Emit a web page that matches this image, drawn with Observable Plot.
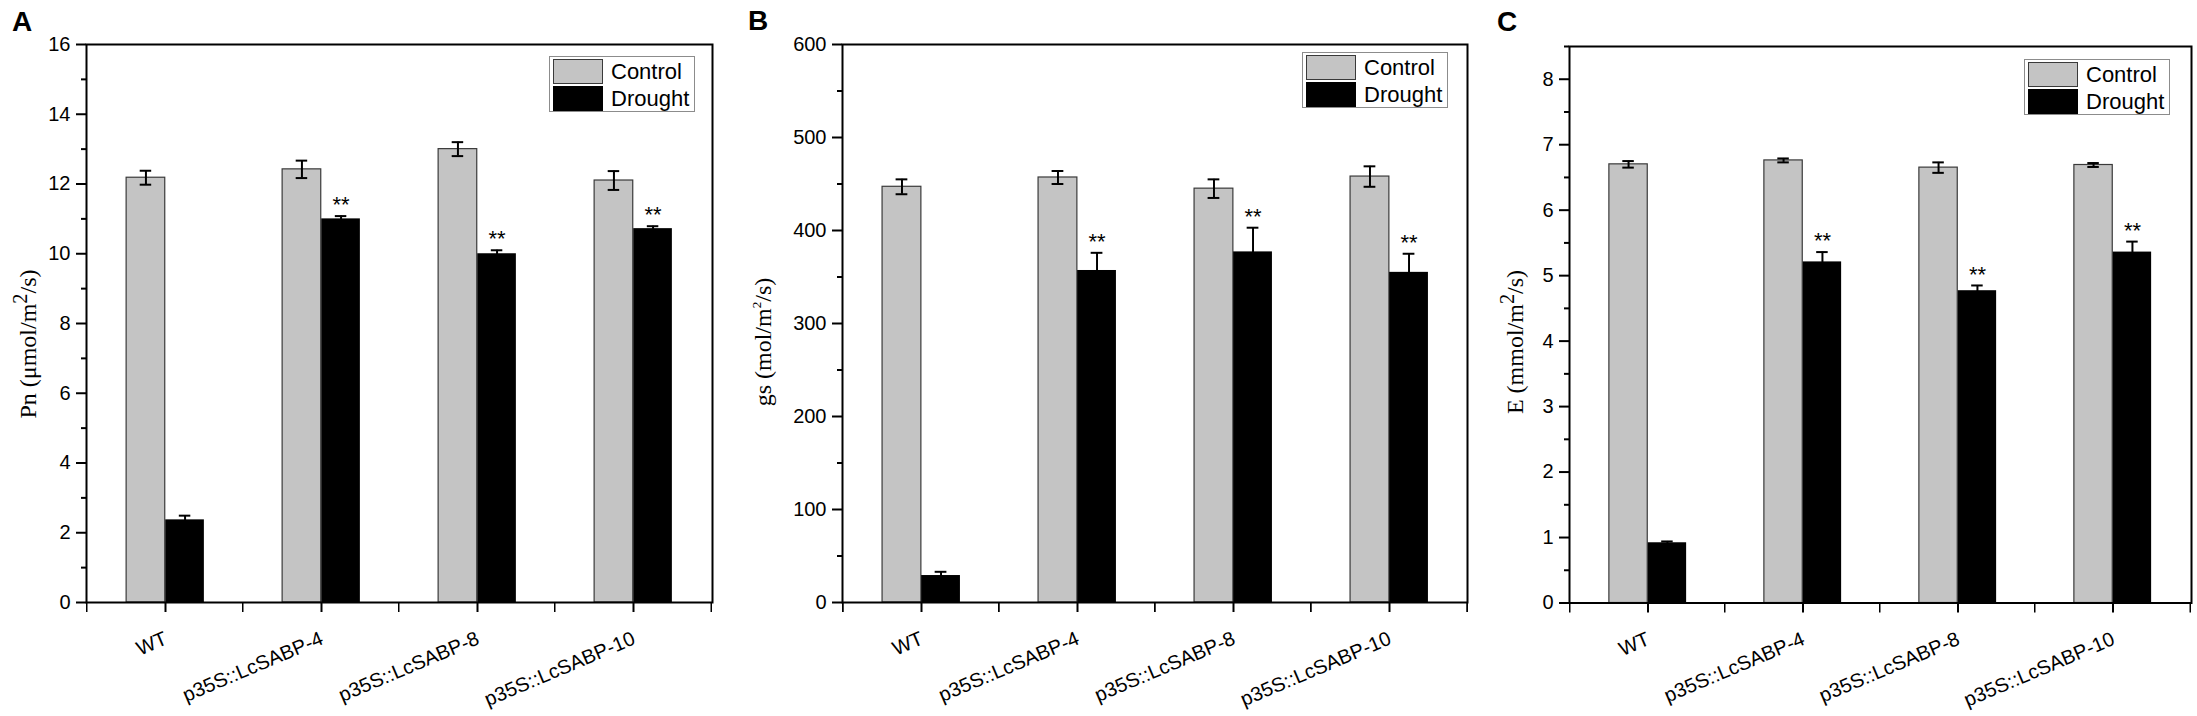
<!DOCTYPE html>
<html>
<head>
<meta charset="utf-8">
<script src="https://cdn.jsdelivr.net/npm/d3@7"></script>
<script src="https://cdn.jsdelivr.net/npm/@observablehq/plot@0.6"></script>
<style>
  html, body { margin: 0; padding: 0; background: #fff; }
  body { width: 2197px; height: 716px; position: relative; overflow: hidden; font-family: "Liberation Sans", Arial, sans-serif; }
  .panel { position: absolute; top: 0; }
  .letter { position: absolute; font-weight: bold; font-size: 28px; line-height: 1; color: #000; }
  .ylab { position: absolute; font-family: "Liberation Serif", "Times New Roman", serif; font-size: 24px; line-height: 1; white-space: nowrap; transform: translate(-50%, -50%) rotate(-90deg); color: #000; }
  .ylab .sup { position: relative; }
  .legend { position: absolute; border: 1px solid #8c8c8c; box-sizing: border-box; background: #fff; }
  .legend .sw { position: absolute; box-sizing: border-box; width: 50px; height: 25px; }
  .legend .lt { position: absolute; font-size: 22px; line-height: 1; color: #000; white-space: nowrap; }
</style>
</head>
<body>
<script>
// ---------- data ----------
const lines = ["WT", "p35S::LcSABP-4", "p35S::LcSABP-8", "p35S::LcSABP-10"];
const treatments = ["Control", "Drought"];
const significance = ["", "**", "**", "**"];

// A: Pn (μmol/m2/s)
const pnControl = [12.18, 12.42, 13.0, 12.1];
const pnControlErr = [0.2, 0.25, 0.2, 0.27];
const pnDrought = [2.37, 11.0, 10.0, 10.72];
const pnDroughtErr = [0.12, 0.08, 0.1, 0.07];
const pnTicks = [0, 2, 4, 6, 8, 10, 12, 14, 16];
const pnMinorTicks = [1, 3, 5, 7, 9, 11, 13, 15];

// B: gs (mol/m2/s)
const gsControl = [447, 457, 445, 458];
const gsControlErr = [8, 7, 10, 11];
const gsDrought = [29, 357, 377, 355];
const gsDroughtErr = [4, 19, 26, 20];
const gsTicks = [0, 100, 200, 300, 400, 500, 600];
const gsMinorTicks = [50, 150, 250, 350, 450, 550];

// C: E (mmol/m2/s)
const eControl = [6.7, 6.76, 6.65, 6.69];
const eControlErr = [0.05, 0.03, 0.08, 0.03];
const eDrought = [0.92, 5.21, 4.77, 5.36];
const eDroughtErr = [0.02, 0.15, 0.08, 0.16];
const eTicks = [0, 1, 2, 3, 4, 5, 6, 7, 8];
const eMinorTicks = [0.5, 1.5, 2.5, 3.5, 4.5, 5.5, 6.5, 7.5, 8.5];

const colors = {Control: "#c4c4c4", Drought: "#000000"};

function makePanel(cfg) {
  const H = 716;
  const frameW = cfg.width - cfg.marginLeft - cfg.marginRight;
  const step = frameW / lines.length;
  const bw = step * 0.25;
  const ctrl = lines.map((l, i) => ({line: l, value: cfg.control[i], err: cfg.controlErr[i]}));
  const drt = lines.map((l, i) => ({line: l, value: cfg.drought[i], err: cfg.droughtErr[i], sig: significance[i]}));
  const capHalf = 6;

  const plot = Plot.plot({
    width: cfg.width,
    height: H,
    marginLeft: cfg.marginLeft,
    marginRight: cfg.marginRight,
    marginTop: cfg.marginTop,
    marginBottom: H - cfg.bottom,
    style: {fontFamily: "Liberation Sans, Arial, sans-serif", fontSize: "20px", color: "#000", background: "transparent", overflow: "visible"},
    x: {type: "band", domain: lines, padding: 0},
    y: {domain: cfg.yDomain},
    marks: [
      // bars
      Plot.barY(ctrl, {x: "line", y: "value", fill: colors.Control, stroke: "#3a3a3a", strokeWidth: 1.2, insetLeft: step / 2 - bw, insetRight: step / 2}),
      Plot.barY(drt, {x: "line", y: "value", fill: colors.Drought, insetLeft: step / 2, insetRight: step / 2 - bw}),
      // error bars
      Plot.ruleX(ctrl, {x: "line", y1: d => d.value - d.err, y2: d => d.value + d.err, dx: -bw / 2, stroke: "#000", strokeWidth: 2}),
      Plot.tickY(ctrl, {x: "line", y: d => d.value - d.err, stroke: "#000", strokeWidth: 2, insetLeft: step / 2 - bw / 2 - capHalf, insetRight: step / 2 + bw / 2 - capHalf}),
      Plot.tickY(ctrl, {x: "line", y: d => d.value + d.err, stroke: "#000", strokeWidth: 2, insetLeft: step / 2 - bw / 2 - capHalf, insetRight: step / 2 + bw / 2 - capHalf}),
      Plot.ruleX(drt, {x: "line", y1: d => d.value - d.err, y2: d => d.value + d.err, dx: bw / 2, stroke: "#000", strokeWidth: 2}),
      Plot.tickY(drt, {x: "line", y: d => d.value + d.err, stroke: "#000", strokeWidth: 2, insetLeft: step / 2 + bw / 2 - capHalf, insetRight: step / 2 - bw / 2 - capHalf}),
      // significance
      Plot.text(drt.filter(d => d.sig), {x: "line", y: d => d.value + d.err, text: "sig", dx: bw / 2, dy: -11, fontSize: 22, fill: "#000"}),
      // frame
      Plot.frame({stroke: "#000", strokeWidth: 2}),
      // y axis
      Plot.axisY(cfg.ticks, {tickSize: 10, tickPadding: 6, strokeWidth: 2, label: null, fontSize: 20, tickFormat: d => String(d)}),
      Plot.axisY(cfg.minor, {tickSize: 5, strokeWidth: 2, label: null, tickFormat: () => ""}),
      // x axis ticks at categories
      Plot.axisX({tickSize: 10, strokeWidth: 2, label: null, tickFormat: () => ""}),
      // x minor ticks at band boundaries
      Plot.barY(lines, {x: d => d, y1: 0, y2: 0, insetBottom: -10, insetLeft: -1, insetRight: step - 1, fill: "#000"}),
      Plot.barY(lines.slice(-1), {x: d => d, y1: 0, y2: 0, insetBottom: -10, insetLeft: step - 1, insetRight: -1, fill: "#000"}),
      // x tick labels
      Plot.text(lines, {x: d => d, frameAnchor: "bottom", text: d => d, rotate: -23, textAnchor: "end", lineAnchor: "bottom", dx: 3, dy: 41, fontSize: 20, fill: "#000"})
    ]
  });

  const div = document.createElement("div");
  div.className = "panel";
  div.style.left = cfg.left + "px";
  div.appendChild(plot);
  document.body.appendChild(div);

  // panel letter
  const L = document.createElement("div");
  L.className = "letter";
  L.textContent = cfg.letter;
  L.style.left = cfg.letterX + "px";
  L.style.top = cfg.letterY + "px";
  document.body.appendChild(L);

  // y label
  const Y = document.createElement("div");
  Y.className = "ylab";
  Y.innerHTML = cfg.ylabel;
  Y.style.left = cfg.ylabX + "px";
  Y.style.top = cfg.ylabY + "px";
  document.body.appendChild(Y);

  // legend
  const lg = document.createElement("div");
  lg.className = "legend";
  lg.style.left = cfg.legX + "px";
  lg.style.top = cfg.legY + "px";
  lg.style.width = "146px";
  lg.style.height = "56px";
  treatments.forEach((t, i) => {
    const sw = document.createElement("div");
    sw.className = "sw";
    sw.style.left = "3px";
    sw.style.top = (2 + i * 27) + "px";
    sw.style.background = colors[t];
    sw.style.border = i === 0 ? "1.5px solid #3a3a3a" : "1px solid #000";
    lg.appendChild(sw);
    const lt = document.createElement("div");
    lt.className = "lt";
    lt.textContent = t;
    lt.style.left = "61px";
    lt.style.top = (4 + i * 27) + "px";
    lg.appendChild(lt);
  });
  document.body.appendChild(lg);
}

makePanel({
  left: 0, width: 740, marginLeft: 86, marginRight: 740 - 712, marginTop: 44, bottom: 602,
  control: pnControl, controlErr: pnControlErr, drought: pnDrought, droughtErr: pnDroughtErr,
  yDomain: [0, 16], ticks: pnTicks, minor: pnMinorTicks,
  letter: "A", letterX: 12, letterY: 8,
  ylabel: 'Pn (μmol/m<span class="sup" style="font-size:0.85em;top:-0.45em">2</span>/s)', ylabX: 28, ylabY: 344,
  legX: 549, legY: 56
});
makePanel({
  left: 740, width: 740, marginLeft: 842 - 740, marginRight: 1480 - 1467, marginTop: 44, bottom: 602,
  control: gsControl, controlErr: gsControlErr, drought: gsDrought, droughtErr: gsDroughtErr,
  yDomain: [0, 600], ticks: gsTicks, minor: gsMinorTicks,
  letter: "B", letterX: 748, letterY: 7,
  ylabel: 'gs (mol/m<span class="sup" style="font-size:0.55em;top:-0.75em">2</span>/s)', ylabX: 763, ylabY: 342,
  legX: 1302, legY: 52
});
makePanel({
  left: 1480, width: 717, marginLeft: 1569 - 1480, marginRight: 2197 - 2191, marginTop: 46, bottom: 602.5,
  control: eControl, controlErr: eControlErr, drought: eDrought, droughtErr: eDroughtErr,
  yDomain: [0, 8.5], ticks: eTicks, minor: eMinorTicks,
  letter: "C", letterX: 1497, letterY: 8,
  ylabel: 'E (mmol/m<span class="sup" style="font-size:0.85em;top:-0.45em">2</span>/s)', ylabX: 1515, ylabY: 342,
  legX: 2024, legY: 59
});
</script>
</body>
</html>
